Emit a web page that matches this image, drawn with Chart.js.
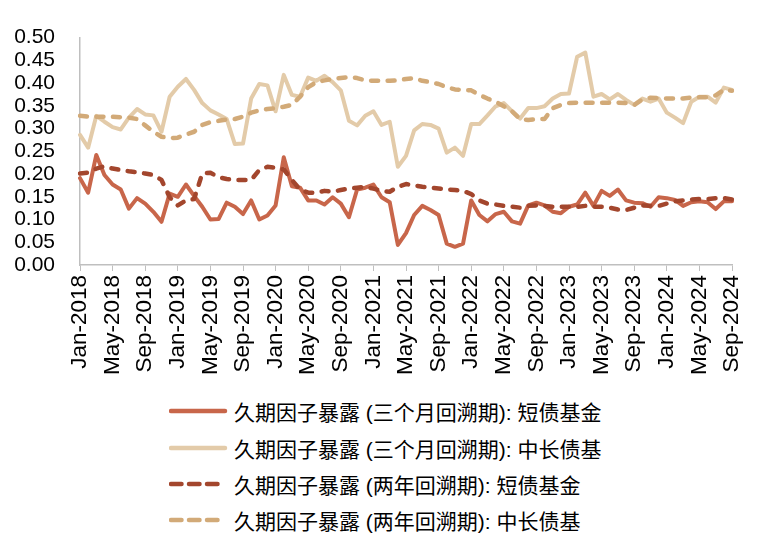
<!DOCTYPE html>
<html>
<head>
<meta charset="utf-8">
<script src="https://cdn.jsdelivr.net/npm/chart.js@4.4.1/dist/chart.umd.min.js"></script>
<style>
  body { margin: 0; background: #fff; }
  #wrap { position: relative; width: 766px; height: 539px; font-family: "Liberation Sans", Arial, "Noto Sans CJK SC", sans-serif; }
  #chart { position: absolute; left: 0; top: 0; }
  .item { position: absolute; left: 169px; height: 26px; display: flex; align-items: center; font-size: 21px; color: #000; white-space: nowrap; }
  .item svg { margin-right: 5px; }
</style>
</head>
<body>
<div id="wrap">
  <canvas id="chart" width="766" height="390"></canvas>
  <div id="legend"></div>
</div>
<script>
// 月份标签 Jan-2018 ... Sep-2024
const MONTHS = ['Jan', 'Feb', 'Mar', 'Apr', 'May', 'Jun', 'Jul', 'Aug', 'Sep', 'Oct', 'Nov', 'Dec'];
const YEARS = [2018, 2019, 2020, 2021, 2022, 2023, 2024];
const categories = [];
YEARS.forEach(y => MONTHS.forEach((m, k) => {
    if (y < 2024 || k < 9) categories.push(m + '-' + y);
}));

const yTicks = [0, 0.05, 0.10, 0.15, 0.20, 0.25, 0.30, 0.35, 0.40, 0.45, 0.50];

// 久期因子暴露 (三个月回溯期): 短债基金
const shortThreeMonth = [
    0.191, 0.159, 0.242, 0.198, 0.177, 0.166, 0.124, 0.147, 0.135, 0.117,
    0.095, 0.157, 0.150, 0.177, 0.152, 0.128, 0.100, 0.101, 0.137, 0.128,
    0.112, 0.142, 0.100, 0.109, 0.131, 0.237, 0.173, 0.170, 0.142, 0.142,
    0.133, 0.149, 0.135, 0.105, 0.166, 0.170, 0.177, 0.149, 0.138, 0.044,
    0.070, 0.110, 0.130, 0.121, 0.110, 0.047, 0.040, 0.047, 0.142, 0.110,
    0.096, 0.112, 0.117, 0.096, 0.091, 0.131, 0.137, 0.131, 0.117, 0.114,
    0.128, 0.133, 0.159, 0.130, 0.163, 0.152, 0.166, 0.142, 0.137, 0.136,
    0.128, 0.149, 0.147, 0.143, 0.130, 0.138, 0.140, 0.138, 0.123, 0.140,
    0.140
];

// 久期因子暴露 (三个月回溯期): 中长债基
const longThreeMonth = [
    0.286, 0.258, 0.328, 0.315, 0.303, 0.298, 0.324, 0.343, 0.331, 0.329,
    0.293, 0.370, 0.392, 0.409, 0.385, 0.356, 0.340, 0.331, 0.321, 0.266,
    0.267, 0.366, 0.398, 0.395, 0.338, 0.418, 0.374, 0.370, 0.412, 0.405,
    0.416, 0.402, 0.384, 0.317, 0.307, 0.328, 0.338, 0.308, 0.315, 0.216,
    0.240, 0.296, 0.310, 0.308, 0.300, 0.247, 0.258, 0.240, 0.310, 0.310,
    0.329, 0.349, 0.356, 0.338, 0.322, 0.345, 0.345, 0.349, 0.366, 0.376,
    0.377, 0.458, 0.467, 0.370, 0.376, 0.364, 0.376, 0.363, 0.352, 0.366,
    0.359, 0.366, 0.335, 0.324, 0.312, 0.359, 0.370, 0.370, 0.357, 0.390,
    0.385
];

// 久期因子暴露 (两年回溯期): 短债基金
const shortTwoYear = [
    0.201, 0.203, 0.212, 0.217, 0.212, 0.209, 0.206, 0.204, 0.201, 0.198,
    0.187, 0.149, 0.131, 0.142, 0.145, 0.201, 0.203, 0.193, 0.189, 0.187,
    0.187, 0.187, 0.209, 0.216, 0.214, 0.210, 0.187, 0.166, 0.159, 0.159,
    0.163, 0.161, 0.165, 0.168, 0.170, 0.172, 0.168, 0.163, 0.161, 0.172,
    0.178, 0.175, 0.172, 0.170, 0.168, 0.166, 0.165, 0.163, 0.156, 0.142,
    0.135, 0.133, 0.130, 0.128, 0.126, 0.130, 0.131, 0.130, 0.128, 0.128,
    0.128, 0.128, 0.130, 0.128, 0.128, 0.126, 0.122, 0.121, 0.126, 0.131,
    0.130, 0.130, 0.135, 0.140, 0.142, 0.144, 0.145, 0.145, 0.147, 0.147,
    0.144
];

// 久期因子暴露 (两年回溯期): 中长债基
const longTwoYear = [
    0.328, 0.326, 0.326, 0.326, 0.326, 0.325, 0.324, 0.321, 0.307, 0.293,
    0.282, 0.279, 0.280, 0.287, 0.293, 0.308, 0.314, 0.317, 0.320, 0.321,
    0.326, 0.335, 0.340, 0.343, 0.345, 0.348, 0.352, 0.370, 0.391, 0.402,
    0.406, 0.409, 0.411, 0.413, 0.411, 0.406, 0.405, 0.405, 0.405, 0.406,
    0.409, 0.411, 0.405, 0.402, 0.398, 0.391, 0.386, 0.385, 0.384, 0.374,
    0.366, 0.359, 0.349, 0.338, 0.321, 0.319, 0.321, 0.321, 0.345, 0.352,
    0.356, 0.357, 0.357, 0.357, 0.357, 0.357, 0.357, 0.356, 0.352, 0.364,
    0.368, 0.367, 0.366, 0.366, 0.366, 0.368, 0.369, 0.369, 0.373, 0.385,
    0.383
];

const seriesNames = [
    '久期因子暴露 (三个月回溯期): 短债基金',
    '久期因子暴露 (三个月回溯期): 中长债基',
    '久期因子暴露 (两年回溯期): 短债基金',
    '久期因子暴露 (两年回溯期): 中长债基'
];
const colors = ['#C8664A', '#E3CBA9', '#A3462D', '#D2AA78'];
const dashes = [[], [], [7, 9.5], [7, 9.5]];
const legendDashes = [[], [], [10.5, 7.5], [10.5, 7.5]];
const values = [shortThreeMonth, longThreeMonth, shortTwoYear, longTwoYear];

const FONT = '"Liberation Sans", Arial, "Noto Sans CJK SC", sans-serif';

const datasets = values.map((v, i) => ({
    label: seriesNames[i],
    data: v,
    borderColor: colors[i],
    backgroundColor: colors[i],
    borderWidth: i < 2 ? 4 : 4.5,
    borderDash: dashes[i],
    borderCapStyle: 'round',
    borderJoinStyle: 'round',
    pointRadius: 0,
    tension: 0,
    order: 4 - i
}));

new Chart(document.getElementById('chart'), {
    type: 'line',
    data: { labels: categories, datasets: datasets },
    options: {
        responsive: false,
        animation: false,
        devicePixelRatio: 1,
        layout: { padding: { top: 29, right: 34, left: 0, bottom: 0 } },
        plugins: { legend: { display: false }, tooltip: { enabled: false } },
        scales: {
            x: {
                offset: false,
                afterFit: s => { s.height = 125; },
                grid: { drawOnChartArea: false, drawTicks: true, tickLength: 6, color: '#BFBFBF', lineWidth: 1 },
                border: { color: '#BFBFBF', width: 1.5 },
                ticks: {
                    autoSkip: false,
                    minRotation: 90,
                    maxRotation: 90,
                    padding: 4,
                    color: '#000',
                    font: { size: 22.5, family: FONT },
                    callback: (val, i) => i % 4 === 0 ? categories[i] : null
                }
            },
            y: {
                min: yTicks[0],
                max: yTicks[yTicks.length - 1],
                afterFit: s => { s.width = 80; },
                afterBuildTicks: s => { s.ticks = yTicks.map(v => ({ value: v })); },
                grid: { display: false, drawTicks: false },
                border: { color: '#BFBFBF', width: 1.5 },
                ticks: {
                    autoSkip: false,
                    padding: 25,
                    color: '#000',
                    font: { size: 21, family: FONT },
                    callback: v => v.toFixed(2)
                }
            }
        }
    }
});

// 图例：每项一行
const rowTops = [398, 435, 471, 507];
const legend = document.getElementById('legend');
seriesNames.forEach((name, i) => {
    const row = document.createElement('div');
    row.className = 'item';
    row.style.top = rowTops[i] + 'px';
    const dash = legendDashes[i].length ? 'stroke-dasharray="' + legendDashes[i].join(' ') + '"' : '';
    row.innerHTML = '<svg width="60" height="10"><line x1="2" y1="5" x2="56" y2="5" stroke="' + colors[i] +
        '" stroke-width="4.5" stroke-linecap="round" ' + dash + '/></svg><span>' + name + '</span>';
    legend.appendChild(row);
});
</script>
</body>
</html>
